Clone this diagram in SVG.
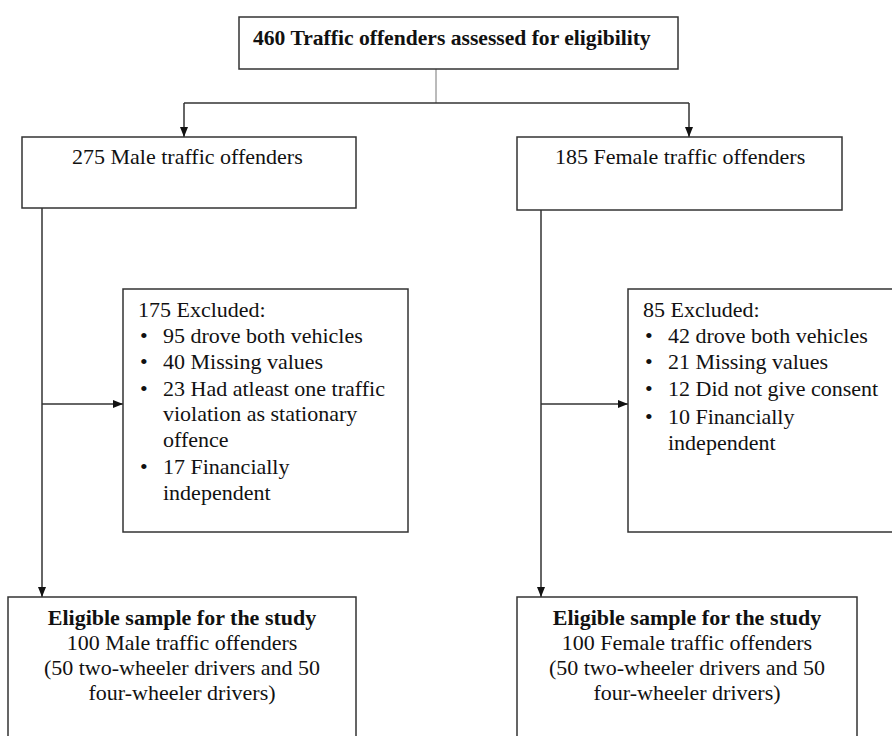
<svg xmlns="http://www.w3.org/2000/svg" width="892" height="736" viewBox="0 0 892 736" font-family="'Liberation Serif','DejaVu Serif','Times New Roman',serif">
<style>
.box{fill:#fff;stroke:#333;stroke-width:1.5}
text{font-family:'Liberation Serif','DejaVu Serif','Times New Roman',serif;font-size:22px;fill:#111}
.b{font-weight:bold}
.c{text-anchor:middle}
.ln{fill:none;stroke:#333;stroke-width:1.5}
.thin{fill:none;stroke:#777;stroke-width:1}
</style>
<defs>
<marker id="ah" markerWidth="10" markerHeight="8" refX="10" refY="4" orient="auto" markerUnits="userSpaceOnUse">
<path d="M0,0 L10,4 L0,8 Z" fill="#111"/>
</marker>
</defs>
<rect width="892" height="736" fill="#fff"/>
<g id="connectors">
<path class="thin" d="M436,69 V103"/>
<path class="ln" d="M184,103 H689"/>
<path class="ln" d="M184,103 V137" marker-end="url(#ah)"/>
<path class="ln" d="M689,103 V137" marker-end="url(#ah)"/>
<path class="ln" d="M42,208 V597" marker-end="url(#ah)"/>
<path class="ln" d="M42,404 H123" marker-end="url(#ah)"/>
<path class="ln" d="M541,210 V597" marker-end="url(#ah)"/>
<path class="ln" d="M541,404 H628" marker-end="url(#ah)"/>
</g>
<g id="top">
<rect class="box" x="239" y="17" width="439" height="52"/>
<text class="b" x="253" y="45" style="font-size:21.6px">460 Traffic offenders assessed for eligibility</text>
</g>
<g id="male">
<rect class="box" x="22" y="137" width="334" height="71"/>
<text x="72" y="164">275 Male traffic offenders</text>
</g>
<g id="female">
<rect class="box" x="517" y="137" width="325" height="73"/>
<text x="555" y="164">185 Female traffic offenders</text>
</g>
<g id="male-excluded">
<rect class="box" x="123" y="289" width="285" height="243"/>
<text x="138" y="317">175 Excluded:</text>
<text x="140" y="343">•</text><text x="163" y="343">95 drove both vehicles</text>
<text x="140" y="369">•</text><text x="163" y="369">40 Missing values</text>
<text x="140" y="396">•</text><text x="163" y="396">23 Had atleast one traffic</text>
<text x="163" y="421">violation as stationary</text>
<text x="163" y="447">offence</text>
<text x="140" y="474">•</text><text x="163" y="474">17 Financially</text>
<text x="163" y="500">independent</text>
</g>
<g id="female-excluded">
<rect class="box" x="628" y="289" width="272" height="243"/>
<text x="643" y="317">85 Excluded:</text>
<text x="645" y="343">•</text><text x="668" y="343">42 drove both vehicles</text>
<text x="645" y="369">•</text><text x="668" y="369">21 Missing values</text>
<text x="645" y="396">•</text><text x="668" y="396">12 Did not give consent</text>
<text x="645" y="424">•</text><text x="668" y="424">10 Financially</text>
<text x="668" y="450">independent</text>
</g>
<g id="male-eligible">
<rect class="box" x="8" y="597" width="348" height="150"/>
<text class="b c" x="182" y="625">Eligible sample for the study</text>
<text class="c" x="182" y="650">100 Male traffic offenders</text>
<text class="c" x="182" y="675">(50 two-wheeler drivers and 50</text>
<text class="c" x="182" y="700">four-wheeler drivers)</text>
</g>
<g id="female-eligible">
<rect class="box" x="517" y="597" width="340" height="150"/>
<text class="b c" x="687" y="625">Eligible sample for the study</text>
<text class="c" x="687" y="650">100 Female traffic offenders</text>
<text class="c" x="687" y="675">(50 two-wheeler drivers and 50</text>
<text class="c" x="687" y="700">four-wheeler drivers)</text>
</g>
</svg>
